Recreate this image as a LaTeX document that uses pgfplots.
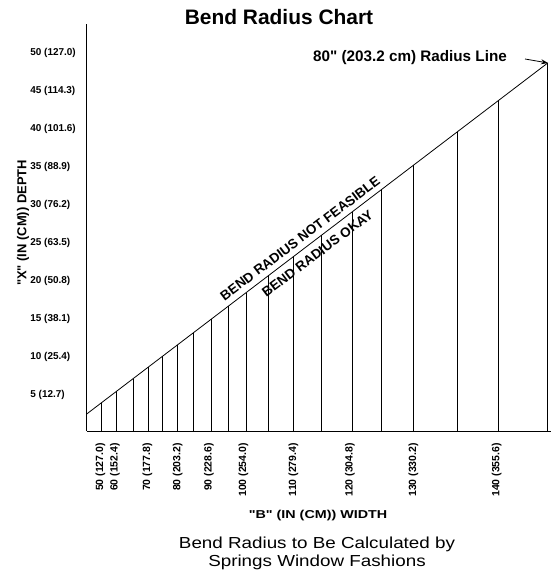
\documentclass[border=0pt]{standalone}
\usepackage{pgfplots}
\pgfplotsset{compat=1.18}
\usepackage{fontspec}
\setmainfont{Liberation Sans}[Ligatures=TeXOff]
\usetikzlibrary{arrows.meta}
\begin{document}
\begin{tikzpicture}[x=1bp,y=1bp]
\useasboundingbox (0,0) rectangle (551,575);
\begin{axis}[
  at={(86.7bp,144bp)}, anchor=south west,
  scale only axis, width=464.3bp, height=407bp,
  xmin=86.7, xmax=551, ymin=0.26, ymax=53.87,
  axis lines*=left,
  axis line style={black, line width=0.8pt},
  major tick length=0pt,
  xtick={100.3,115,147.3,177.7,209,243.3,293.3,350,413.3,496.7},
  xticklabels={50 (127.0),60 (152.4),70 (177.8),80 (203.2),90 (228.6),100 (254.0),110 (279.4),120 (304.8),130 (330.2),140 (355.6)},
  ytick={5,10,15,20,25,30,35,40,45,50},
  yticklabels={5 (12.7),10 (25.4),15 (38.1),20 (50.8),25 (63.5),30 (76.2),35 (88.9),40 (101.6),45 (114.3),50 (127.0)},
  xticklabel style={yshift=-12bp, rotate=90, anchor=east, inner sep=0pt, font=\fontsize{10.5}{12}\selectfont\bfseries},
  yticklabel style={anchor=west, inner sep=0pt, xshift=-56.5bp, font=\fontsize{10}{12}\selectfont\bfseries},
]
\addplot[ycomb, black, line width=0.7pt, no marks] coordinates {
(101.7,4.00) (116.3,5.47) (133.3,7.17) (148.3,8.68) (162.3,10.08)
(177.3,11.59) (193.7,13.23) (211.3,14.99) (228.3,16.70) (246,18.47)
(268.7,20.75) (293.3,23.22) (321.7,26.07) (352.7,29.17) (381,32.01)
(413.3,35.25) (457,39.63) (498.7,43.82) (547.7,48.73)};
\addplot[black, line width=0.8pt, no marks] coordinates {(86.7,2.50) (547.7,48.73)};
\end{axis}
\node[anchor=base, font=\fontsize{21}{25}\selectfont\bfseries] at (279,550) {Bend Radius Chart};
\node[anchor=base, font=\fontsize{15.3}{18}\selectfont\bfseries] at (410,513.3) {80" (203.2 cm) Radius Line};
\draw[-{Stealth[length=7bp,width=5bp]}, line width=0.8pt] (525,516) -- (548,512);
\node[rotate=90, font=\fontsize{13}{15}\selectfont\bfseries] at (23,352) {"X" (IN (CM)) DEPTH};
\node[rotate=37, font=\fontsize{13.5}{16}\selectfont\bfseries] at (300,336.5) {BEND RADIUS NOT FEASIBLE};
\node[rotate=37, font=\fontsize{13.5}{16}\selectfont\bfseries] at (317.5,321.5) {BEND RADIUS OKAY};
\node[anchor=base, font=\fontsize{11.5}{14}\selectfont\bfseries] at (318,56.5) {\scalebox{1.25}[1]{"B" (IN (CM)) WIDTH}};
\node[anchor=base, font=\fontsize{16}{19}\selectfont] at (317,26.7) {\scalebox{1.18}[1]{Bend Radius to Be Calculated by}};
\node[anchor=base, font=\fontsize{16}{19}\selectfont] at (317,8.3) {\scalebox{1.18}[1]{Springs Window Fashions}};
\end{tikzpicture}
\end{document}
